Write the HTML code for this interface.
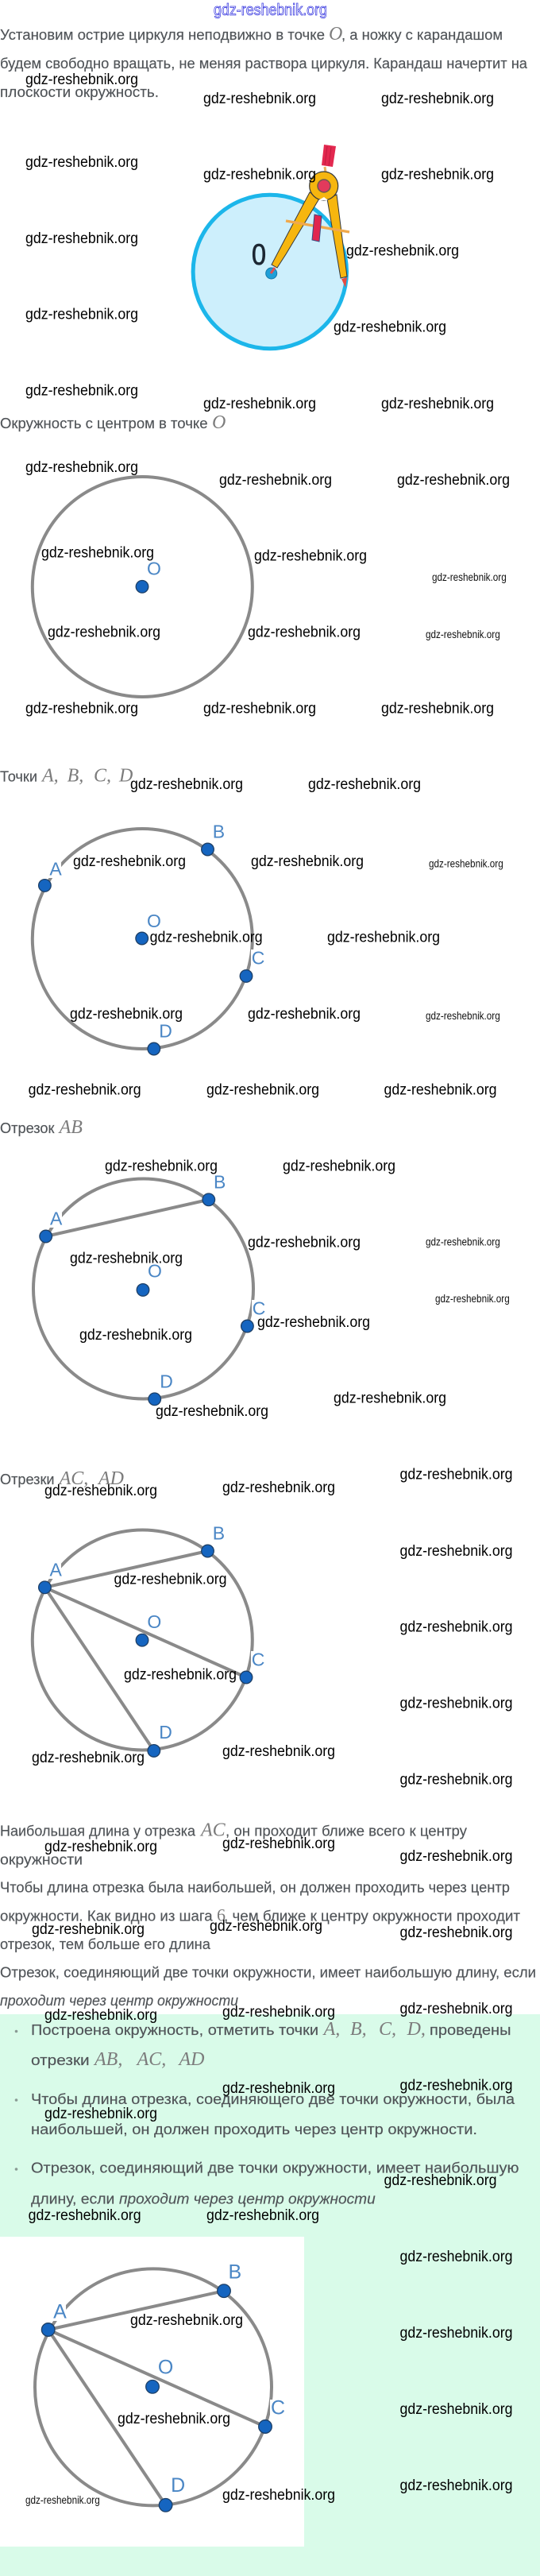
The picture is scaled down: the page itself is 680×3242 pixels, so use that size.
<!DOCTYPE html>
<html lang="ru"><head><meta charset="utf-8"><title>gdz-reshebnik.org</title>
<style>
html,body{margin:0;padding:0;background:#fff;width:680px;height:3242px;overflow:hidden}
svg{display:block}
.t{font:18px "Liberation Sans","Noto Sans CJK SC",sans-serif;fill:#505458;stroke:#505458;stroke-width:.15}
.i{font:italic 18px "Liberation Sans","Noto Sans CJK SC",sans-serif;fill:#505458;stroke:#505458;stroke-width:.15}
.m{font:italic 24px "Liberation Serif","Noto Serif CJK SC",serif;fill:#7c7c7c}
.n{font:22px "Liberation Serif",serif;fill:#7c7c7c}
.w{font:19px "Liberation Sans",sans-serif;fill:#000}
.s{font:14px "Liberation Sans",sans-serif;fill:#111}
.l{font:23px "Liberation Sans",sans-serif;fill:#4a86c5;text-anchor:middle}
.r{fill:none;stroke:#8a8a8a;stroke-width:4}
.c{stroke:#8a8a8a;stroke-width:4}
.p{fill:#1565c0;stroke:#1d3f66;stroke-width:1.3}
.h{fill:#fff;stroke:none}
</style></head><body>
<svg xmlns="http://www.w3.org/2000/svg" width="680" height="3242" viewBox="0 0 680 3242">
<rect x="0" y="2535" width="680" height="707" fill="#d9fbe9"/>
<rect x="0" y="2815" width="383" height="390" fill="#fff"/>

<text x="269" y="19" font-family="Liberation Sans, sans-serif" font-size="20" fill="#fff" stroke="#3a3ae0" stroke-width="0.8" textLength="143" lengthAdjust="spacingAndGlyphs">gdz-reshebnik.org</text>

<!-- paragraph 1 -->
<text class="t" x="0" y="50" textLength="409" lengthAdjust="spacingAndGlyphs">Установим острие циркуля неподвижно в точке</text>
<text class="m" x="414" y="50">O</text>
<text class="t" x="430" y="50" textLength="203" lengthAdjust="spacingAndGlyphs">, а ножку с карандашом</text>
<text class="t" x="0" y="86" textLength="664" lengthAdjust="spacingAndGlyphs">будем свободно вращать, не меняя раствора циркуля. Карандаш начертит на</text>
<text class="t" x="0" y="122" textLength="200" lengthAdjust="spacingAndGlyphs">плоскости окружность.</text>

<!-- compass figure -->
<circle cx="339.8" cy="342" r="96.7" fill="#cdeffc" stroke="#1cb6ea" stroke-width="5"/>
<text x="317" y="333" font-family="Liberation Sans, sans-serif" font-size="37" fill="#1c2733" stroke="#1c2733" stroke-width=".8" textLength="18" lengthAdjust="spacingAndGlyphs">0</text>
<line x1="409" y1="210" x2="410" y2="217" stroke="#e8b060" stroke-width="3"/>
<polygon points="408,182 423,184 419,210 405,208" fill="#e3284f"/>
<path d="M412 184L409 208M417 185L414 209" stroke="#c01c40" stroke-width="1"/>
<polygon points="390,242 402,250 360,320 349,337 342,333 363,293" fill="#f6b60f" stroke="#33373c" stroke-width="1"/>
<polygon points="412,250 424,245 437,348 429,350" fill="#f6b60f" stroke="#33373c" stroke-width="1"/>
<circle cx="407.7" cy="234" r="18" fill="#f6b60f" stroke="#33373c" stroke-width="1.2"/>
<circle cx="408" cy="234" r="8" fill="#e23a5c" stroke="#6a5a50" stroke-width="1.5"/>
<polygon points="401,252 413,252 408,248" fill="#fff"/>
<line x1="360" y1="278" x2="440" y2="292" stroke="#f0a94c" stroke-width="3.3"/>
<polygon points="396,270 405,272 402,304 393,302" fill="#e0254e" stroke="#3a4a80" stroke-width="1"/>
<circle cx="341.7" cy="344" r="7" fill="#1e9fd8" stroke="#1678a8" stroke-width="1"/>
<line x1="346" y1="337" x2="341" y2="344" stroke="#e25050" stroke-width="3"/>
<polygon points="430,351 437,349 435,362" fill="#e84a40"/>

<text class="t" x="0" y="539" textLength="261.5" lengthAdjust="spacingAndGlyphs">Окружность с центром в точке</text>
<text class="m" x="267" y="539">O</text>

<!-- circle 2 -->
<circle class="r" cx="179.3" cy="738.5" r="138.5"/>
<circle class="p" cx="179" cy="738.3" r="7.8"/>
<text class="l" x="194" y="723.3">O</text>

<text class="t" x="0" y="983.5" textLength="47" lengthAdjust="spacingAndGlyphs">Точки</text>
<text class="m" x="53" y="983.5">A,</text><text class="m" x="84.6" y="983.5">B,</text><text class="m" x="118" y="983.5">C,</text><text class="m" x="150" y="983.5">D</text>

<!-- circle 3 -->
<circle class="r" cx="179.3" cy="1181.5" r="138.5"/>
<rect class="h" x="60" y="1085" width="17" height="20"/>
<rect class="h" x="316" y="1195" width="20" height="22"/>
<circle class="p" cx="178.7" cy="1181" r="7.8"/>
<circle class="p" cx="56.4" cy="1114.4" r="7.8"/>
<circle class="p" cx="261.5" cy="1069" r="7.8"/>
<circle class="p" cx="310" cy="1228.4" r="7.8"/>
<circle class="p" cx="193.8" cy="1320" r="7.8"/>
<text class="l" x="194" y="1166.8">O</text><text class="l" x="70" y="1101.3">A</text><text class="l" x="275.4" y="1054.3">B</text><text class="l" x="325" y="1213.3">C</text><text class="l" x="208.6" y="1305.3">D</text>

<text class="t" x="0" y="1426" textLength="68.5" lengthAdjust="spacingAndGlyphs">Отрезок</text>
<text class="m" x="74.6" y="1426">AB</text>

<!-- circle 4 -->
<circle class="r" cx="180.5" cy="1622" r="138.5"/>
<rect class="h" x="61" y="1525" width="17" height="20"/>
<rect class="h" x="317" y="1636" width="20" height="20"/>
<line class="c" x1="57.7" y1="1556" x2="262.8" y2="1509.8"/>
<circle class="p" cx="180" cy="1623.4" r="7.8"/>
<circle class="p" cx="57.7" cy="1556" r="7.8"/>
<circle class="p" cx="262.8" cy="1509.8" r="7.8"/>
<circle class="p" cx="311.4" cy="1669" r="7.8"/>
<circle class="p" cx="194.7" cy="1760.8" r="7.8"/>
<text class="l" x="195" y="1607.3">O</text><text class="l" x="70.7" y="1541.3">A</text><text class="l" x="276.7" y="1495.3">B</text><text class="l" x="326" y="1654.3">C</text><text class="l" x="209.5" y="1746.3">D</text>

<text class="t" x="0" y="1868" textLength="68.5" lengthAdjust="spacingAndGlyphs">Отрезки</text>
<text class="m" x="74.6" y="1868">AC,</text><text class="m" x="124" y="1868">AD</text>

<!-- circle 5 -->
<circle class="r" cx="179.3" cy="2064" r="138.5"/>
<rect class="h" x="60" y="1967" width="17" height="20"/>
<rect class="h" x="316" y="2078" width="20" height="20"/>
<line class="c" x1="56.4" y1="1997.8" x2="261.5" y2="1952"/>
<line class="c" x1="56.4" y1="1997.8" x2="310" y2="2111"/>
<line class="c" x1="56.4" y1="1997.8" x2="193.8" y2="2203.4"/>
<circle class="p" cx="179" cy="2064.2" r="7.8"/>
<circle class="p" cx="56.4" cy="1997.8" r="7.8"/>
<circle class="p" cx="261.5" cy="1952" r="7.8"/>
<circle class="p" cx="310" cy="2111" r="7.8"/>
<circle class="p" cx="193.8" cy="2203.4" r="7.8"/>
<text class="l" x="194.3" y="2049">O</text><text class="l" x="70.2" y="1983.6">A</text><text class="l" x="275.4" y="1937.3">B</text><text class="l" x="325" y="2096.3">C</text><text class="l" x="208.6" y="2187.9">D</text>

<!-- conclusions -->
<text class="t" x="0" y="2310.5" textLength="246" lengthAdjust="spacingAndGlyphs">Наибольшая длина у отрезка</text>
<text class="m" x="253" y="2310.5">AC</text>
<text class="t" x="284" y="2310.5" textLength="304" lengthAdjust="spacingAndGlyphs">, он проходит ближе всего к центру</text>
<text class="t" x="0" y="2346.3" textLength="104" lengthAdjust="spacingAndGlyphs">окружности</text>
<text class="t" x="0" y="2381.4" textLength="642" lengthAdjust="spacingAndGlyphs">Чтобы длина отрезка была наибольшей, он должен проходить через центр</text>
<text class="t" x="0" y="2417.6" textLength="267.6" lengthAdjust="spacingAndGlyphs">окружности. Как видно из шага</text>
<text class="n" x="273" y="2417.6">6</text>
<text class="t" x="282" y="2417.6" textLength="373" lengthAdjust="spacingAndGlyphs">, чем ближе к центру окружности проходит</text>
<text class="t" x="0" y="2453" textLength="265" lengthAdjust="spacingAndGlyphs">отрезок, тем больше его длина</text>
<text class="t" x="0" y="2488.5" textLength="675" lengthAdjust="spacingAndGlyphs">Отрезок, соединяющий две точки окружности, имеет наибольшую длину, если</text>
<text class="i" x="0" y="2524" textLength="300" lengthAdjust="spacingAndGlyphs">проходит через центр окружности</text>

<!-- summary list -->
<circle cx="20.5" cy="2556.5" r="1.8" fill="#8a9a94"/>
<text class="t" x="39" y="2561" textLength="362" lengthAdjust="spacingAndGlyphs">Построена окружность, отметить точки</text>
<text class="m" x="407.6" y="2561">A,</text><text class="m" x="441" y="2561">B,</text><text class="m" x="477" y="2561">C,</text><text class="m" x="512.6" y="2561">D,</text>
<text class="t" x="541" y="2561" textLength="102.5" lengthAdjust="spacingAndGlyphs">проведены</text>
<text class="t" x="39" y="2599" textLength="73.7" lengthAdjust="spacingAndGlyphs">отрезки</text>
<text class="m" x="119" y="2599">AB,</text><text class="m" x="172.6" y="2599">AC,</text><text class="m" x="225.5" y="2599">AD</text>
<circle cx="20.5" cy="2643" r="1.8" fill="#8a9a94"/>
<text class="t" x="39" y="2648" textLength="609" lengthAdjust="spacingAndGlyphs">Чтобы длина отрезка, соединяющего две точки окружности, была</text>
<text class="t" x="39" y="2686" textLength="562" lengthAdjust="spacingAndGlyphs">наибольшей, он должен проходить через центр окружности.</text>
<circle cx="20.5" cy="2730" r="1.8" fill="#8a9a94"/>
<text class="t" x="39" y="2734.6" textLength="614.5" lengthAdjust="spacingAndGlyphs">Отрезок, соединяющий две точки окружности, имеет наибольшую</text>
<text class="t" x="39" y="2773.6" textLength="105.4" lengthAdjust="spacingAndGlyphs">длину, если</text>
<text class="i" x="150" y="2773.6" textLength="322.7" lengthAdjust="spacingAndGlyphs">проходит через центр окружности</text>

<!-- circle 6 -->
<circle class="r" cx="193" cy="3004.4" r="149" stroke-width="4.3"/>
<rect class="h" x="65" y="2899" width="18" height="22"/>
<rect class="h" x="340" y="3020" width="20" height="20"/>
<line class="c" x1="60.7" y1="2932" x2="282" y2="2883.2"/>
<line class="c" x1="60.7" y1="2932" x2="334" y2="3054"/>
<line class="c" x1="60.7" y1="2932" x2="208.6" y2="3152.8"/>
<circle class="p" cx="192" cy="3003.8" r="8.3"/>
<circle class="p" cx="60.7" cy="2932" r="8.3"/>
<circle class="p" cx="282" cy="2883.2" r="8.3"/>
<circle class="p" cx="334" cy="3054" r="8.3"/>
<circle class="p" cx="208.6" cy="3152.8" r="8.3"/>
<text class="l" x="208.6" y="2987.6" style="font-size:25px">O</text><text class="l" x="75.5" y="2917.4" style="font-size:25px">A</text><text class="l" x="295.8" y="2867.6" style="font-size:25px">B</text><text class="l" x="350" y="3038.4" style="font-size:25px">C</text><text class="l" x="224.2" y="3136" style="font-size:25px">D</text>

<!-- watermarks -->
<g id="wm">
<text class="w" textLength="142" lengthAdjust="spacingAndGlyphs" x="32" y="106">gdz-reshebnik.org</text>
<text class="w" textLength="142" lengthAdjust="spacingAndGlyphs" x="256" y="130">gdz-reshebnik.org</text>
<text class="w" textLength="142" lengthAdjust="spacingAndGlyphs" x="480" y="130">gdz-reshebnik.org</text>
<text class="w" textLength="142" lengthAdjust="spacingAndGlyphs" x="32" y="210">gdz-reshebnik.org</text>
<text class="w" textLength="142" lengthAdjust="spacingAndGlyphs" x="256" y="225.5">gdz-reshebnik.org</text>
<text class="w" textLength="142" lengthAdjust="spacingAndGlyphs" x="480" y="225.5">gdz-reshebnik.org</text>
<text class="w" textLength="142" lengthAdjust="spacingAndGlyphs" x="32" y="306">gdz-reshebnik.org</text>
<text class="w" textLength="142" lengthAdjust="spacingAndGlyphs" x="436" y="321.5">gdz-reshebnik.org</text>
<text class="w" textLength="142" lengthAdjust="spacingAndGlyphs" x="32" y="401.5">gdz-reshebnik.org</text>
<text class="w" textLength="142" lengthAdjust="spacingAndGlyphs" x="420" y="417.5">gdz-reshebnik.org</text>
<text class="w" textLength="142" lengthAdjust="spacingAndGlyphs" x="32" y="497.5">gdz-reshebnik.org</text>
<text class="w" textLength="142" lengthAdjust="spacingAndGlyphs" x="256" y="514">gdz-reshebnik.org</text>
<text class="w" textLength="142" lengthAdjust="spacingAndGlyphs" x="480" y="514">gdz-reshebnik.org</text>
<text class="w" textLength="142" lengthAdjust="spacingAndGlyphs" x="32" y="594">gdz-reshebnik.org</text>
<text class="w" textLength="142" lengthAdjust="spacingAndGlyphs" x="276" y="610">gdz-reshebnik.org</text>
<text class="w" textLength="142" lengthAdjust="spacingAndGlyphs" x="500" y="610">gdz-reshebnik.org</text>
<text class="w" textLength="142" lengthAdjust="spacingAndGlyphs" x="52" y="701.5">gdz-reshebnik.org</text>
<text class="w" textLength="142" lengthAdjust="spacingAndGlyphs" x="320" y="705.5">gdz-reshebnik.org</text>
<text class="s" textLength="93.7" lengthAdjust="spacingAndGlyphs" x="544" y="731">gdz-reshebnik.org</text>
<text class="w" textLength="142" lengthAdjust="spacingAndGlyphs" x="60" y="801.7">gdz-reshebnik.org</text>
<text class="w" textLength="142" lengthAdjust="spacingAndGlyphs" x="312" y="801.7">gdz-reshebnik.org</text>
<text class="s" textLength="93.7" lengthAdjust="spacingAndGlyphs" x="536" y="803">gdz-reshebnik.org</text>
<text class="w" textLength="142" lengthAdjust="spacingAndGlyphs" x="32" y="897.5">gdz-reshebnik.org</text>
<text class="w" textLength="142" lengthAdjust="spacingAndGlyphs" x="256" y="897.5">gdz-reshebnik.org</text>
<text class="w" textLength="142" lengthAdjust="spacingAndGlyphs" x="480" y="897.5">gdz-reshebnik.org</text>
<text class="w" textLength="142" lengthAdjust="spacingAndGlyphs" x="164" y="993">gdz-reshebnik.org</text>
<text class="w" textLength="142" lengthAdjust="spacingAndGlyphs" x="388" y="993">gdz-reshebnik.org</text>
<text class="w" textLength="142" lengthAdjust="spacingAndGlyphs" x="92" y="1090">gdz-reshebnik.org</text>
<text class="w" textLength="142" lengthAdjust="spacingAndGlyphs" x="316" y="1090">gdz-reshebnik.org</text>
<text class="s" textLength="93.7" lengthAdjust="spacingAndGlyphs" x="540" y="1091.5">gdz-reshebnik.org</text>
<text class="w" textLength="142" lengthAdjust="spacingAndGlyphs" x="188.6" y="1185.5">gdz-reshebnik.org</text>
<text class="w" textLength="142" lengthAdjust="spacingAndGlyphs" x="412" y="1185.5">gdz-reshebnik.org</text>
<text class="w" textLength="142" lengthAdjust="spacingAndGlyphs" x="88" y="1281.8">gdz-reshebnik.org</text>
<text class="w" textLength="142" lengthAdjust="spacingAndGlyphs" x="312" y="1281.8">gdz-reshebnik.org</text>
<text class="s" textLength="93.7" lengthAdjust="spacingAndGlyphs" x="536" y="1282.8">gdz-reshebnik.org</text>
<text class="w" textLength="142" lengthAdjust="spacingAndGlyphs" x="35.6" y="1377.5">gdz-reshebnik.org</text>
<text class="w" textLength="142" lengthAdjust="spacingAndGlyphs" x="260" y="1377.5">gdz-reshebnik.org</text>
<text class="w" textLength="142" lengthAdjust="spacingAndGlyphs" x="483.5" y="1377.5">gdz-reshebnik.org</text>
<text class="w" textLength="142" lengthAdjust="spacingAndGlyphs" x="132" y="1473.5">gdz-reshebnik.org</text>
<text class="w" textLength="142" lengthAdjust="spacingAndGlyphs" x="356" y="1473.5">gdz-reshebnik.org</text>
<text class="w" textLength="142" lengthAdjust="spacingAndGlyphs" x="312" y="1569.5">gdz-reshebnik.org</text>
<text class="s" textLength="93.7" lengthAdjust="spacingAndGlyphs" x="536" y="1567.3">gdz-reshebnik.org</text>
<text class="w" textLength="142" lengthAdjust="spacingAndGlyphs" x="88" y="1589.5">gdz-reshebnik.org</text>
<text class="s" textLength="93.7" lengthAdjust="spacingAndGlyphs" x="548" y="1639">gdz-reshebnik.org</text>
<text class="w" textLength="142" lengthAdjust="spacingAndGlyphs" x="324" y="1670">gdz-reshebnik.org</text>
<text class="w" textLength="142" lengthAdjust="spacingAndGlyphs" x="100" y="1686">gdz-reshebnik.org</text>
<text class="w" textLength="142" lengthAdjust="spacingAndGlyphs" x="420" y="1765.5">gdz-reshebnik.org</text>
<text class="w" textLength="142" lengthAdjust="spacingAndGlyphs" x="196" y="1781.8">gdz-reshebnik.org</text>
<text class="w" textLength="142" lengthAdjust="spacingAndGlyphs" x="503.5" y="1861.5">gdz-reshebnik.org</text>
<text class="w" textLength="142" lengthAdjust="spacingAndGlyphs" x="280" y="1878">gdz-reshebnik.org</text>
<text class="w" textLength="142" lengthAdjust="spacingAndGlyphs" x="56" y="1882">gdz-reshebnik.org</text>
<text class="w" textLength="142" lengthAdjust="spacingAndGlyphs" x="503.5" y="1958">gdz-reshebnik.org</text>
<text class="w" textLength="142" lengthAdjust="spacingAndGlyphs" x="143.5" y="1993.5">gdz-reshebnik.org</text>
<text class="w" textLength="142" lengthAdjust="spacingAndGlyphs" x="503.5" y="2053.5">gdz-reshebnik.org</text>
<text class="w" textLength="142" lengthAdjust="spacingAndGlyphs" x="156" y="2113.5">gdz-reshebnik.org</text>
<text class="w" textLength="142" lengthAdjust="spacingAndGlyphs" x="503.5" y="2149.5">gdz-reshebnik.org</text>
<text class="w" textLength="142" lengthAdjust="spacingAndGlyphs" x="280" y="2210">gdz-reshebnik.org</text>
<text class="w" textLength="142" lengthAdjust="spacingAndGlyphs" x="40" y="2218">gdz-reshebnik.org</text>
<text class="w" textLength="142" lengthAdjust="spacingAndGlyphs" x="503.5" y="2245.7">gdz-reshebnik.org</text>
<text class="w" textLength="142" lengthAdjust="spacingAndGlyphs" x="280" y="2326">gdz-reshebnik.org</text>
<text class="w" textLength="142" lengthAdjust="spacingAndGlyphs" x="56" y="2330">gdz-reshebnik.org</text>
<text class="w" textLength="142" lengthAdjust="spacingAndGlyphs" x="503.5" y="2342">gdz-reshebnik.org</text>
<text class="w" textLength="142" lengthAdjust="spacingAndGlyphs" x="264" y="2430">gdz-reshebnik.org</text>
<text class="w" textLength="142" lengthAdjust="spacingAndGlyphs" x="40" y="2434">gdz-reshebnik.org</text>
<text class="w" textLength="142" lengthAdjust="spacingAndGlyphs" x="503.5" y="2438">gdz-reshebnik.org</text>
<text class="w" textLength="142" lengthAdjust="spacingAndGlyphs" x="503.5" y="2534">gdz-reshebnik.org</text>
<text class="w" textLength="142" lengthAdjust="spacingAndGlyphs" x="280" y="2538">gdz-reshebnik.org</text>
<text class="w" textLength="142" lengthAdjust="spacingAndGlyphs" x="56" y="2542">gdz-reshebnik.org</text>
<text class="w" textLength="142" lengthAdjust="spacingAndGlyphs" x="503.5" y="2630.5">gdz-reshebnik.org</text>
<text class="w" textLength="142" lengthAdjust="spacingAndGlyphs" x="280" y="2634">gdz-reshebnik.org</text>
<text class="w" textLength="142" lengthAdjust="spacingAndGlyphs" x="56" y="2666">gdz-reshebnik.org</text>
<text class="w" textLength="142" lengthAdjust="spacingAndGlyphs" x="483.5" y="2750">gdz-reshebnik.org</text>
<text class="w" textLength="142" lengthAdjust="spacingAndGlyphs" x="35.6" y="2794">gdz-reshebnik.org</text>
<text class="w" textLength="142" lengthAdjust="spacingAndGlyphs" x="260" y="2794">gdz-reshebnik.org</text>
<text class="w" textLength="142" lengthAdjust="spacingAndGlyphs" x="503.5" y="2846">gdz-reshebnik.org</text>
<text class="w" textLength="142" lengthAdjust="spacingAndGlyphs" x="164" y="2926">gdz-reshebnik.org</text>
<text class="w" textLength="142" lengthAdjust="spacingAndGlyphs" x="503.5" y="2942">gdz-reshebnik.org</text>
<text class="w" textLength="142" lengthAdjust="spacingAndGlyphs" x="503.5" y="3038">gdz-reshebnik.org</text>
<text class="w" textLength="142" lengthAdjust="spacingAndGlyphs" x="148" y="3050">gdz-reshebnik.org</text>
<text class="w" textLength="142" lengthAdjust="spacingAndGlyphs" x="503.5" y="3134">gdz-reshebnik.org</text>
<text class="w" textLength="142" lengthAdjust="spacingAndGlyphs" x="280" y="3146">gdz-reshebnik.org</text>
<text class="s" textLength="93.7" lengthAdjust="spacingAndGlyphs" x="32" y="3151">gdz-reshebnik.org</text>
</g>
</svg>
</body></html>
